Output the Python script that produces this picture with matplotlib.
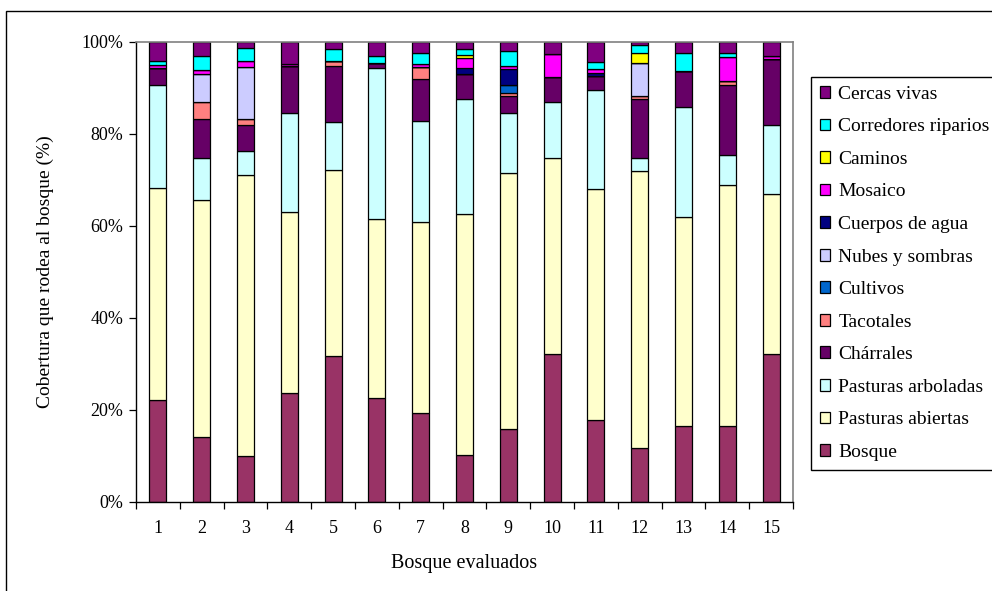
import numpy as np
import matplotlib.pyplot as plt
from matplotlib.patches import Rectangle

plt.rcParams['font.family'] = ['Liberation Serif', 'DejaVu Serif']

bosques = [str(i) for i in range(1, 16)]

# cover classes, bottom to top of each stack
clases = ["Bosque", "Pasturas abiertas", "Pasturas arboladas", "Chárrales",
          "Tacotales", "Cultivos", "Nubes y sombras", "Cuerpos de agua",
          "Mosaico", "Caminos", "Corredores riparios", "Cercas vivas"]
colores = ["#993366", "#FFFFCC", "#CCFFFF", "#660066", "#FF8080", "#0066CC",
           "#CCCCFF", "#000080", "#FF00FF", "#FFFF00", "#00FFFF", "#800080"]

# percentages per forest (1..15)
bosque = [22.1, 14.2, 9.9, 23.7, 31.8, 22.6, 19.3, 10.2, 15.9, 32.2, 17.9, 11.8, 16.6, 16.6, 32.2]
past_abiertas = [46.2, 51.4, 61.2, 39.3, 40.4, 39.0, 41.6, 52.4, 55.7, 42.5, 50.1, 60.2, 45.3, 52.4, 34.8]
past_arboladas = [22.3, 9.1, 5.3, 21.5, 10.5, 32.8, 21.9, 25.0, 12.9, 12.2, 21.6, 2.7, 24.0, 6.4, 15.0]
charrales = [3.8, 8.5, 5.5, 10.2, 12.0, 1.0, 9.2, 5.4, 3.7, 5.5, 3.0, 12.9, 7.8, 15.3, 14.4]
tacotales = [0, 3.7, 1.3, 0, 1.2, 0, 2.6, 0, 0.7, 0, 0, 0.6, 0, 0.9, 0]
cultivos = [0, 0, 0, 0, 0, 0, 0, 0, 1.7, 0, 0, 0, 0, 0, 0]
nubes = [0, 6.1, 11.4, 0, 0, 0, 0, 0, 0, 0, 0, 7.2, 0, 0, 0]
cuerpos_agua = [0, 0, 0, 0, 0, 0, 0, 1.4, 3.5, 0, 0.6, 0, 0, 0, 0]
mosaico = [0.5, 1.0, 1.2, 0.6, 0, 0, 0.7, 2.1, 0.6, 4.9, 0.9, 0, 0, 5.2, 0.5]
caminos = [0, 0, 0, 0, 0, 0, 0, 0.6, 0, 0, 0, 2.3, 0, 0, 0]
corredores = [0.9, 3.0, 2.9, 0, 2.5, 1.6, 2.4, 1.3, 3.3, 0, 1.5, 1.7, 4.0, 0.9, 0]
cercas = [4.2, 3.0, 1.3, 4.7, 1.6, 3.0, 2.3, 1.6, 2.0, 2.7, 4.4, 0.6, 2.3, 2.3, 3.1]

series = [bosque, past_abiertas, past_arboladas, charrales, tacotales, cultivos,
          nubes, cuerpos_agua, mosaico, caminos, corredores, cercas]

datos = np.array(series, dtype=float)
datos = datos / datos.sum(axis=0) * 100  # each bar sums to 100 %

fig = plt.figure(figsize=(9.92, 5.91), dpi=100)
ax = fig.add_axes([136/992, 89/591, 657/992, 460/591])

x = np.arange(len(bosques))
base = np.zeros(len(bosques))
barras = []
for nombre, color, fila in zip(clases, colores, datos):
    b = ax.bar(x, fila, 0.39, bottom=base, color=color, edgecolor="black",
               linewidth=0.9, label=nombre)
    barras.append(b)
    base += fila

ax.set_xlim(-0.5, len(bosques) - 0.5)
ax.set_ylim(0, 100)
ax.set_yticks(np.arange(0, 101, 20))
ax.set_yticklabels([f"{v}%" for v in range(0, 101, 20)], fontsize=13)
ax.set_xticks(x)
ax.set_xticklabels(bosques, fontsize=13)
ax.tick_params(axis="x", length=0, pad=13)
ax.set_xticks(np.arange(-0.5, len(bosques)), minor=True)
ax.tick_params(axis="x", which="minor", length=5, direction="out", width=0.9)
ax.tick_params(axis="y", length=5, direction="out", width=0.9, pad=4)

for lado in ["top", "right"]:
    ax.spines[lado].set_color("#808080")
    ax.spines[lado].set_linewidth(1.2)
for lado in ["left", "bottom"]:
    ax.spines[lado].set_linewidth(1.0)

ax.set_xlabel("Bosque evaluados", fontsize=14.5, labelpad=12)
ax.set_ylabel("Cobertura que rodea al bosque (%)", fontsize=14, labelpad=20)

handles = [b[0] for b in barras][::-1]
etiquetas = clases[::-1]
leg = fig.legend(handles, etiquetas, loc="upper left",
                 bbox_to_anchor=(811/992, 1 - 77/591), fontsize=14,
                 handlelength=0.55, handleheight=0.55, handletextpad=0.4,
                 labelspacing=0.8, borderpad=0.45, borderaxespad=0,
                 fancybox=False, edgecolor="black", framealpha=1)
leg.get_frame().set_linewidth(1.0)

# outer chart border
fig.patches.append(Rectangle((6/992, -0.1), 1.2, 1 - 11/591 + 0.1,
                             transform=fig.transFigure, fill=False,
                             edgecolor="black", linewidth=1.0))

fig.savefig("out.png", dpi=100)
